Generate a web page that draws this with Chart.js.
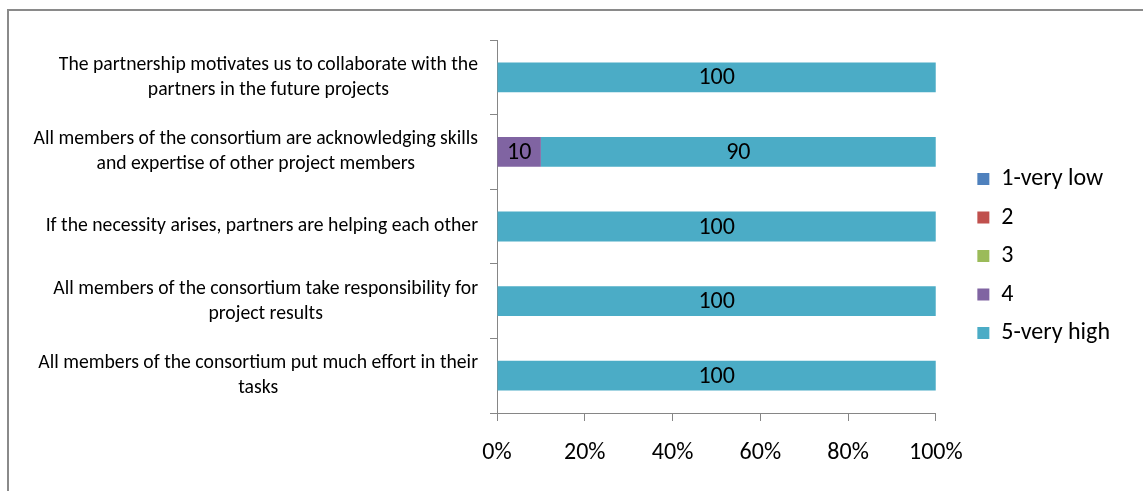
<!DOCTYPE html>
<html>
<head>
<meta charset="utf-8">
<script src="https://cdn.jsdelivr.net/npm/chart.js@4.4.1/dist/chart.umd.min.js"></script>
<style>
  html, body { margin: 0; padding: 0; background: #fff; }
  #frame { position: absolute; left: 7px; top: 9px; width: 1300px; height: 600px;
           border-left: 2px solid #8a8a8a; border-top: 2px solid #8a8a8a; }
  #wrap { position: absolute; left: 0; top: 0; width: 1143px; height: 491px; }
</style>
</head>
<body>
<div id="frame"></div>
<div id="wrap"><canvas id="chart"></canvas></div>
<script>
// categories, top to bottom
const categories = [
  ['The partnership motivates us to collaborate with the', 'partners in the future projects'],
  ['All members of the consortium are acknowledging skills', 'and expertise of other project members'],
  ['If the necessity arises, partners are helping each other'],
  ['All members of the consortium take responsibility for', 'project results'],
  ['All members of the consortium put much effort in their', 'tasks']
];
const seriesNames = ['1-very low', '2', '3', '4', '5-very high'];
const veryLow = [0, 0, 0, 0, 0];
const two = [0, 0, 0, 0, 0];
const three = [0, 0, 0, 0, 0];
const four = [0, 10, 0, 0, 0];
const veryHigh = [100, 90, 100, 100, 100];
const seriesColors = ['#4F81BD', '#C0504D', '#9BBB59', '#8064A2', '#4BACC6'];
const xTicks = [0, 20, 40, 60, 80, 100];

const family = 'Carlito, Lato, sans-serif';
const axisGray = '#868686';

// Excel-style category labels: lines centred within a right-aligned block
const categoryLabels = {
  id: 'categoryLabels',
  afterDraw(chart) {
    const ctx = chart.ctx;
    const y = chart.scales.y;
    const right = y.right - 19;
    const lineH = 25;
    ctx.save();
    ctx.font = '19.7px ' + family;
    ctx.fillStyle = '#000';
    ctx.textAlign = 'center';
    ctx.textBaseline = 'middle';
    chart.data.labels.forEach((lines, i) => {
      const cy = y.getPixelForValue(i);
      const w = Math.max(...lines.map(l => ctx.measureText(l).width));
      const cx = right - w / 2;
      lines.forEach((l, j) => ctx.fillText(l, cx, cy + (j - (lines.length - 1) / 2) * lineH));
    });
    ctx.restore();
  }
};

// value labels in the middle of each non-zero segment
const valueLabels = {
  id: 'valueLabels',
  afterDatasetsDraw(chart) {
    const ctx = chart.ctx;
    ctx.save();
    ctx.font = '24px ' + family;
    ctx.fillStyle = '#000';
    ctx.textAlign = 'center';
    ctx.textBaseline = 'middle';
    chart.data.datasets.forEach((ds, di) => {
      const meta = chart.getDatasetMeta(di);
      meta.data.forEach((bar, i) => {
        const v = ds.data[i];
        if (!v) return;
        ctx.fillText(String(v), (bar.x + bar.base) / 2, bar.y + 1);
      });
    });
    ctx.restore();
  }
};

const seriesData = [veryLow, two, three, four, veryHigh];

new Chart(document.getElementById('chart'), {
  type: 'bar',
  data: {
    labels: categories,
    datasets: seriesNames.map((name, i) => ({
      label: name,
      data: seriesData[i],
      backgroundColor: seriesColors[i],
      borderWidth: 0,
      categoryPercentage: 1,
      barPercentage: 0.4
    }))
  },
  options: {
    indexAxis: 'y',
    responsive: true,
    maintainAspectRatio: false,
    animation: false,
    layout: { padding: { top: 40, bottom: 19, left: 0, right: 23 } },
    plugins: {
      legend: {
        position: 'right',
        labels: { boxWidth: 12, boxHeight: 12, padding: 14.5, color: '#000', font: { size: 24, family: family } }
      },
      tooltip: { enabled: false }
    },
    scales: {
      x: {
        stacked: true,
        min: xTicks[0],
        max: xTicks[xTicks.length - 1],
        ticks: { stepSize: 20, callback: v => v + '%', color: '#000', font: { size: 24, family: family }, padding: 18, maxRotation: 0 },
        grid: { drawOnChartArea: false, tickLength: 8, color: axisGray },
        border: { color: axisGray },
        afterFit: s => { s.height = 59; }
      },
      y: {
        stacked: true,
        ticks: { display: false },
        grid: { drawOnChartArea: false, tickLength: 7, color: axisGray, offset: true },
        border: { color: axisGray },
        afterFit: s => { s.width = 497; }
      },
      gap: {
        type: 'linear',
        position: 'right',
        grid: { display: false },
        ticks: { display: false },
        border: { display: false },
        afterFit: s => { s.width = 27; }
      }
    }
  },
  plugins: [categoryLabels, valueLabels]
});
</script>
</body>
</html>
